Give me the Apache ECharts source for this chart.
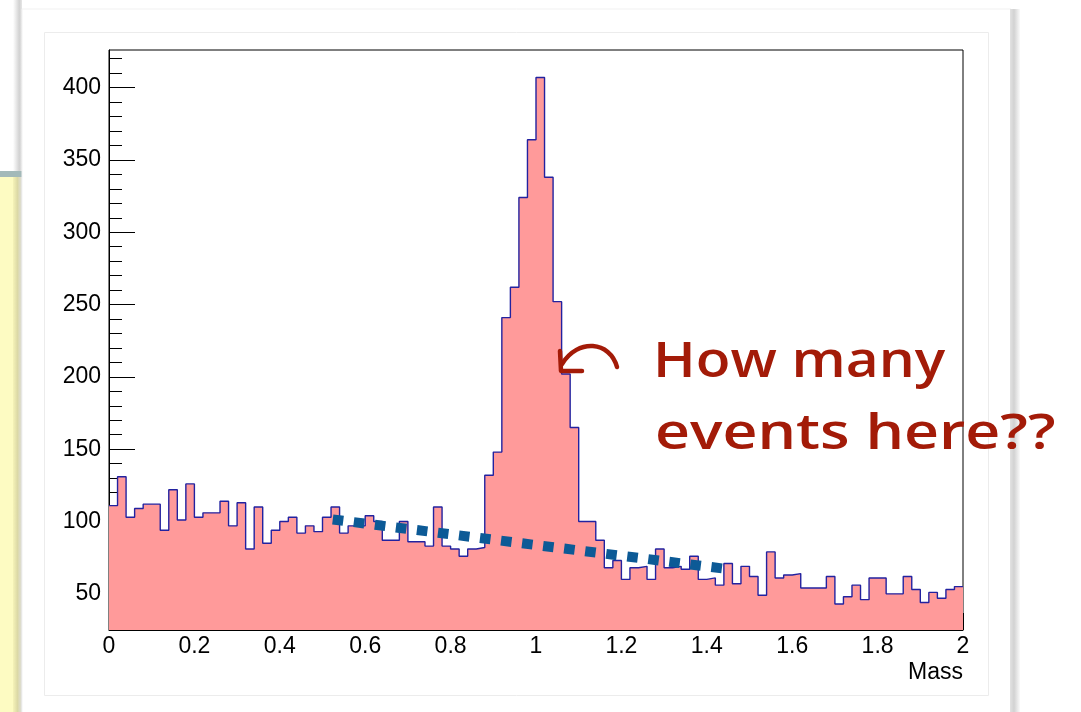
<!DOCTYPE html>
<html>
<head>
<meta charset="utf-8">
<script src="https://cdn.jsdelivr.net/npm/echarts@6/dist/echarts.min.js"></script>
<style>
html,body{margin:0;padding:0;background:#fff;}
#chart{width:1081px;height:712px;}
</style>
</head>
<body>
<div id="chart"></div>
<script>
// ---- data ----
const binStart = 0;
const binWidth = 0.02;
const counts = [
  111,131,103,109,112,112,94,122,101,126,
  103,106,106,114,97,113,81,110,85,94,
  100,103,92,97,93,103,110,92,97,97,
  104,100,87,87,100,86,86,83,110,83,
  81,76,81,82,132,148,241,262,324,364,
  407,338,252,202,165,100,100,87,68,73,
  60,68,69,60,81,68,69,67,76,60,
  61,56,71,57,69,62,49,79,61,63,
  64,54,54,54,62,43,48,56,46,61,
  61,50,50,62,53,44,51,47,53,55
];
const yMajorTicks = [50,100,150,200,250,300,350,400];
const yMinorTicks = [30,40,60,70,80,90,110,120,130,140,160,170,180,190,210,220,230,240,260,270,280,290,310,320,330,340,360,370,380,390,410,420];
const xAxisName = 'Mass';
const dottedX = [0.524, 1.443];
const dottedY = [101.4, 67.3];
const noteLines = ['How many', 'events here??'];

// ---- build ----
const histData = counts.map((c, i) => [binStart + i * binWidth, c]);
histData.push([binStart + counts.length * binWidth, counts[counts.length - 1]]);
const dottedData = dottedX.map((x, i) => [x, dottedY[i]]);

const FONT = '"Liberation Sans", Arial, Helvetica, sans-serif';
const chart = echarts.init(document.getElementById('chart'), null, {renderer: 'canvas'});

const option = {
  backgroundColor: '#ffffff',
  animation: false,
  grid: {left: 109, top: 50, right: 118, bottom: 82, show: true, borderColor: '#000', borderWidth: 1, backgroundColor: 'transparent'},
  xAxis: {
    type: 'value', min: 0, max: 2, interval: 0.2,
    name: xAxisName, nameLocation: 'end', nameGap: 0,
    nameTextStyle: {fontFamily: FONT, fontSize: 23, color: '#000', align: 'right', verticalAlign: 'top', padding: [31, 0, 0, 0]},
    axisLine: {show: true, lineStyle: {color: '#000', width: 1}},
    axisTick: {show: true, inside: true, length: 17, lineStyle: {color: '#000', width: 1}},
    minorTick: {show: true, splitNumber: 4, length: 8, lineStyle: {color: '#000', width: 1}},
    splitLine: {show: false},
    axisLabel: {fontFamily: FONT, fontSize: 23, color: '#000', margin: 5, showMinLabel: true, showMaxLabel: true}
  },
  yAxis: [{
    type: 'value', min: 25, max: 426, position: 'left',
    axisLine: {show: true, lineStyle: {color: '#000', width: 1}},
    axisTick: {show: true, inside: true, length: 26, customValues: yMajorTicks, lineStyle: {color: '#000', width: 1}},
    splitLine: {show: false},
    axisLabel: {fontFamily: FONT, fontSize: 23, color: '#000', margin: 8, customValues: yMajorTicks}
  }, {
    type: 'value', min: 25, max: 426, position: 'left',
    axisLine: {show: false},
    axisTick: {show: true, inside: true, length: 13, customValues: yMinorTicks, lineStyle: {color: '#000', width: 1}},
    splitLine: {show: false},
    axisLabel: {show: false}
  }],
  series: [{
    type: 'line', step: 'end', data: histData, symbol: 'none', yAxisIndex: 0,
    lineStyle: {color: '#2222a0', width: 1.4},
    areaStyle: {color: '#ff9a9a', opacity: 1, origin: 'start'},
    z: 2
  }, {
    type: 'line', data: dottedData, symbol: 'none', yAxisIndex: 0,
    lineStyle: {color: '#0c5a96', width: 10, type: [10.6, 10.6], cap: 'butt'},
    z: 5
  }],
  graphic: [
    // background decorations
    {type: 'rect', z: -100, shape: {x: 0, y: 171, width: 16, height: 541}, style: {fill: '#fdfbc2'}},
    {type: 'rect', z: -99, shape: {x: 13, y: 177, width: 9, height: 535}, style: {fill: new echarts.graphic.LinearGradient(0, 0, 1, 0, [{offset: 0, color: '#f6f3b8'}, {offset: 0.5, color: '#dcd9a6'}, {offset: 1, color: '#dedede'}])}},
    {type: 'rect', z: -99, shape: {x: 13, y: 0, width: 9, height: 171}, style: {fill: new echarts.graphic.LinearGradient(0, 0, 1, 0, [{offset: 0, color: '#ffffff'}, {offset: 0.7, color: '#d2d2d2'}, {offset: 1, color: '#e6e6e6'}])}},
    {type: 'rect', z: -98, shape: {x: 0, y: 171, width: 23, height: 6}, style: {fill: '#a3b9b9'}},
    {type: 'rect', z: -97, shape: {x: 22, y: 9, width: 989, height: 710}, style: {fill: '#ffffff', stroke: '#f1f1f1', lineWidth: 1}},
    {type: 'rect', z: -97, shape: {x: 1010, y: 9, width: 10, height: 703}, style: {fill: new echarts.graphic.LinearGradient(0, 0, 1, 0, [{offset: 0, color: '#e2e2e2'}, {offset: 0.4, color: '#d2d2d2'}, {offset: 1, color: '#fafafa'}])}},
    {type: 'rect', z: -96, shape: {x: 44.5, y: 32.5, width: 944, height: 663}, style: {fill: '#ffffff', stroke: '#ececec', lineWidth: 1}},
    // annotation
    {type: 'bezierCurve', z: 100, shape: {x1: 617, y1: 367, cpx1: 610, cpy1: 341, cpx2: 578, cpy2: 338, x2: 562, y2: 364}, style: {stroke: '#a31b08', lineWidth: 4.5, fill: null, lineCap: 'round'}},
    {type: 'polyline', z: 100, shape: {points: [[560, 351], [561, 371], [582, 371]]}, style: {stroke: '#a31b08', lineWidth: 4.5, fill: null, lineCap: 'round', lineJoin: 'round'}},
    {type: 'text', z: 100, x: 653, y: 363, scaleX: 1.16, style: {text: noteLines[0], font: '600 49px "Open Sans", sans-serif', fill: '#a31b08', verticalAlign: 'middle', align: 'left'}},
    {type: 'text', z: 100, x: 655, y: 435, scaleX: 1.24, style: {text: noteLines[1], font: '600 49px "Open Sans", sans-serif', fill: '#a31b08', verticalAlign: 'middle', align: 'left'}}
  ]
};
chart.setOption(option);
</script>
</body>
</html>
